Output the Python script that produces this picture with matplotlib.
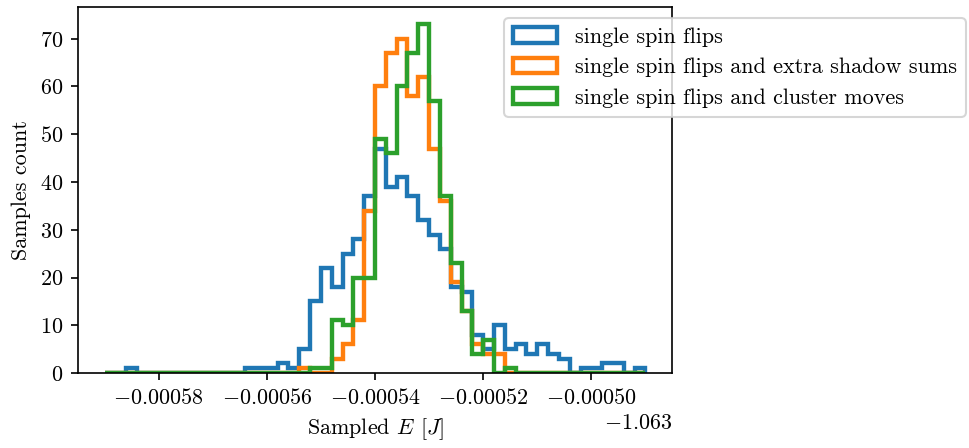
import matplotlib
matplotlib.use('Agg')
import matplotlib.pyplot as plt
import numpy as np

# energy window and binning shared by the three runs
E_LOW = -1.06359
E_HIGH = -1.06349
N_BINS = 50
E_OFFSET = -1.063

labels = ['single spin flips',
          'single spin flips and extra shadow sums',
          'single spin flips and cluster moves']

counts_single = [0, 0, 1, 0, 0, 0, 0, 0, 0, 0,
                 0, 0, 0, 1, 1, 1, 2, 1, 5, 15,
                 22, 18, 25, 28, 37, 47, 39, 41, 37, 32,
                 29, 26, 18, 17, 8, 5, 10, 5, 6, 4,
                 6, 4, 3, 0, 1, 1, 2, 2, 0, 1]
counts_shadow = [0, 0, 0, 0, 0, 0, 0, 0, 0, 0,
                 0, 0, 0, 0, 0, 0, 0, 0, 1, 0,
                 0, 3, 6, 11, 34, 60, 67, 70, 58, 62,
                 47, 36, 19, 13, 6, 4, 4, 0, 0, 0,
                 0, 0, 0, 0, 0, 0, 0, 0, 0, 0]
counts_cluster = [0, 0, 0, 0, 0, 0, 0, 0, 0, 0,
                  0, 0, 0, 0, 0, 0, 0, 0, 0, 1,
                  1, 11, 10, 20, 20, 49, 46, 60, 67, 73,
                  57, 37, 23, 13, 4, 7, 0, 1, 0, 0,
                  0, 0, 0, 0, 0, 0, 0, 0, 0, 0]

plt.rcParams['font.family'] = 'serif'
plt.rcParams['font.serif'] = ['cmr10']
plt.rcParams['mathtext.fontset'] = 'cm'
plt.rcParams['axes.formatter.use_mathtext'] = True
plt.rcParams['font.size'] = 10.6

edges = np.linspace(E_LOW, E_HIGH, N_BINS + 1)
centres = 0.5 * (edges[:-1] + edges[1:])

fig = plt.figure(figsize=(9.69 / 1.5, 4.48 / 1.5), dpi=150)
ax = fig.add_axes([0.080, 0.1674, 0.614, 0.817])

for c, lab in zip([counts_single, counts_shadow, counts_cluster], labels):
    ax.hist(centres, bins=edges, weights=c, histtype='step', lw=2.1, label=lab)

ax.ticklabel_format(axis='x', useOffset=E_OFFSET)
ax.set_xlabel(r'Sampled $E$ $[J]$')
ax.set_ylabel('Samples count')

ax.legend(loc='upper left', bbox_to_anchor=(0.5204, 0.9592),
          bbox_transform=fig.transFigure, borderaxespad=0)

fig.savefig('out.png', dpi=150)
